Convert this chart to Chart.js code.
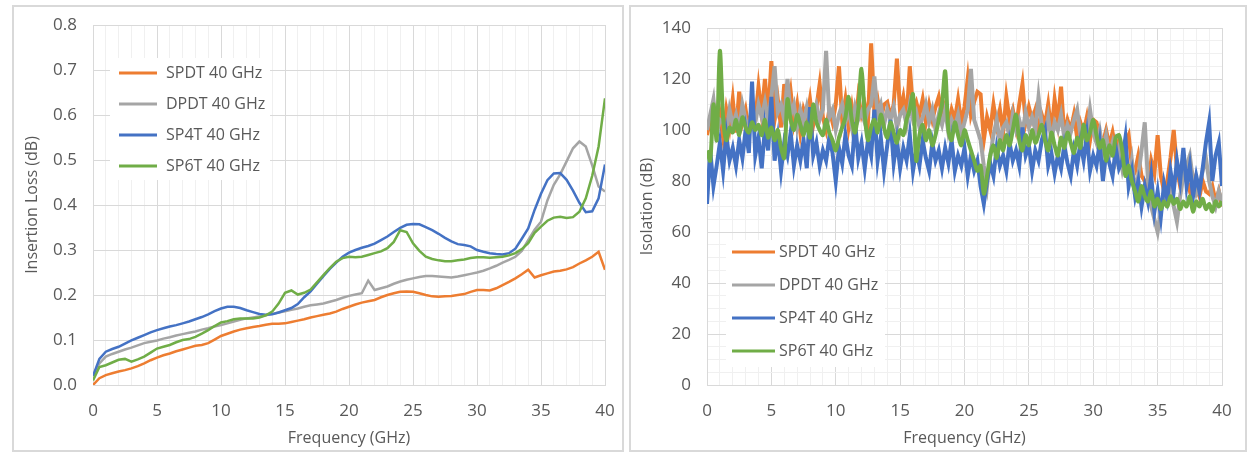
<!DOCTYPE html>
<html lang="en">
<head>
  <meta charset="UTF-8" />
  <title>SPDT / DPDT / SP4T / SP6T 40 GHz</title>
  <script src="https://cdn.jsdelivr.net/npm/chart.js"></script>
  <style>
    body {
      margin: 0;
      background: #fff;
      font-family: 'Open Sans', sans-serif;
    }
    .panel {
      position: absolute;
      border: 2px solid #d9d9d9;
      box-sizing: border-box;
      background: #fff;
    }
  </style>
</head>
<body>
  <div class="panel" style="left:12px;top:5px;width:612px;height:447px"><canvas id="ilChart"></canvas></div>
  <div class="panel" style="left:629px;top:5px;width:618px;height:447px"><canvas id="isoChart"></canvas></div>

  <script>
    const seriesNames = ['SPDT 40 GHz', 'DPDT 40 GHz', 'SP4T 40 GHz', 'SP6T 40 GHz'];
    const seriesColors = ['#ED7D31', '#A5A5A5', '#4472C4', '#70AD47'];

    // insertion loss, sampled every 0.5 GHz
    const freqIL = [
      0, 0.5, 1, 1.5, 2, 2.5, 3, 3.5, 4, 4.5, 5, 5.5, 6, 6.5, 7, 7.5, 8, 8.5, 9, 9.5,
      10, 10.5, 11, 11.5, 12, 12.5, 13, 13.5, 14, 14.5, 15, 15.5, 16, 16.5, 17, 17.5, 18, 18.5, 19, 19.5,
      20, 20.5, 21, 21.5, 22, 22.5, 23, 23.5, 24, 24.5, 25, 25.5, 26, 26.5, 27, 27.5, 28, 28.5, 29, 29.5,
      30, 30.5, 31, 31.5, 32, 32.5, 33, 33.5, 34, 34.5, 35, 35.5, 36, 36.5, 37, 37.5, 38, 38.5, 39, 39.5, 40
    ];
    const spdtIL = [
      0.000, 0.015, 0.022, 0.026, 0.030, 0.033, 0.037, 0.042, 0.048, 0.055,
      0.061, 0.066, 0.070, 0.075, 0.079, 0.083, 0.087, 0.089, 0.093, 0.101,
      0.109, 0.114, 0.119, 0.123, 0.126, 0.129, 0.131, 0.134, 0.136, 0.136,
      0.137, 0.140, 0.143, 0.146, 0.150, 0.153, 0.156, 0.159, 0.163, 0.169,
      0.174, 0.179, 0.183, 0.186, 0.189, 0.195, 0.200, 0.204, 0.207, 0.208,
      0.207, 0.204, 0.200, 0.197, 0.196, 0.197, 0.198, 0.200, 0.202, 0.207,
      0.211, 0.211, 0.210, 0.215, 0.222, 0.229, 0.237, 0.246, 0.256, 0.239,
      0.244, 0.248, 0.252, 0.254, 0.257, 0.262, 0.270, 0.277, 0.285, 0.296,
      0.256
    ];
    const dpdtIL = [
      0.020, 0.048, 0.063, 0.069, 0.074, 0.079, 0.083, 0.088, 0.093, 0.096,
      0.099, 0.103, 0.106, 0.110, 0.113, 0.116, 0.119, 0.123, 0.126, 0.130,
      0.133, 0.137, 0.141, 0.145, 0.148, 0.150, 0.152, 0.155, 0.158, 0.161,
      0.164, 0.167, 0.170, 0.174, 0.177, 0.179, 0.181, 0.185, 0.189, 0.194,
      0.198, 0.201, 0.204, 0.232, 0.211, 0.215, 0.219, 0.225, 0.230, 0.234,
      0.237, 0.240, 0.242, 0.242, 0.241, 0.240, 0.239, 0.241, 0.244, 0.247,
      0.250, 0.254, 0.259, 0.265, 0.272, 0.278, 0.285, 0.298, 0.322, 0.345,
      0.363, 0.410, 0.445, 0.468, 0.497, 0.526, 0.541, 0.530, 0.488, 0.441,
      0.430
    ];
    const sp4tIL = [
      0.020, 0.058, 0.074, 0.080, 0.085, 0.092, 0.099, 0.105, 0.111, 0.117,
      0.122, 0.126, 0.130, 0.133, 0.137, 0.141, 0.146, 0.151, 0.157, 0.164,
      0.170, 0.174, 0.174, 0.171, 0.166, 0.162, 0.158, 0.156, 0.157, 0.161,
      0.166, 0.171, 0.180, 0.195, 0.208, 0.225, 0.242, 0.258, 0.272, 0.285,
      0.294, 0.300, 0.305, 0.309, 0.314, 0.322, 0.330, 0.340, 0.349, 0.356,
      0.358, 0.357, 0.351, 0.344, 0.336, 0.327, 0.319, 0.313, 0.311, 0.308,
      0.300, 0.296, 0.293, 0.291, 0.290, 0.293, 0.303, 0.325, 0.348, 0.389,
      0.425, 0.455, 0.470, 0.471, 0.456, 0.432, 0.405, 0.384, 0.386, 0.415,
      0.490
    ];
    const sp6tIL = [
      0.010, 0.040, 0.044, 0.050, 0.056, 0.058, 0.052, 0.057, 0.063, 0.072,
      0.081, 0.085, 0.089, 0.095, 0.100, 0.102, 0.107, 0.114, 0.122, 0.131,
      0.139, 0.142, 0.146, 0.148, 0.148, 0.148, 0.150, 0.155, 0.163, 0.181,
      0.205, 0.210, 0.201, 0.205, 0.212, 0.228, 0.244, 0.260, 0.274, 0.282,
      0.285, 0.284, 0.285, 0.289, 0.293, 0.297, 0.304, 0.318, 0.344, 0.340,
      0.315, 0.298, 0.285, 0.280, 0.277, 0.275, 0.275, 0.277, 0.279, 0.282,
      0.284, 0.284, 0.283, 0.284, 0.285, 0.288, 0.293, 0.302, 0.315, 0.338,
      0.352, 0.365, 0.372, 0.374, 0.371, 0.373, 0.385, 0.415, 0.465, 0.530,
      0.637
    ];

    // isolation, sampled every 0.25 GHz
    const freqISO = [
      0, 0.25, 0.5, 0.75, 1, 1.25, 1.5, 1.75, 2, 2.25, 2.5, 2.75, 3, 3.25, 3.5, 3.75, 4, 4.25, 4.5, 4.75, 5,
      5.25, 5.5, 5.75, 6, 6.25, 6.5, 6.75, 7, 7.25, 7.5, 7.75, 8, 8.25, 8.5, 8.75, 9, 9.25, 9.5, 9.75, 10,
      10.25, 10.5, 10.75, 11, 11.25, 11.5, 11.75, 12, 12.25, 12.5, 12.75, 13, 13.25, 13.5, 13.75, 14, 14.25, 14.5, 14.75, 15,
      15.25, 15.5, 15.75, 16, 16.25, 16.5, 16.75, 17, 17.25, 17.5, 17.75, 18, 18.25, 18.5, 18.75, 19, 19.25, 19.5, 19.75, 20,
      20.25, 20.5, 20.75, 21, 21.25, 21.5, 21.75, 22, 22.25, 22.5, 22.75, 23, 23.25, 23.5, 23.75, 24, 24.25, 24.5, 24.75, 25,
      25.25, 25.5, 25.75, 26, 26.25, 26.5, 26.75, 27, 27.25, 27.5, 27.75, 28, 28.25, 28.5, 28.75, 29, 29.25, 29.5, 29.75, 30,
      30.25, 30.5, 30.75, 31, 31.25, 31.5, 31.75, 32, 32.25, 32.5, 32.75, 33, 33.25, 33.5, 33.75, 34, 34.25, 34.5, 34.75, 35,
      35.25, 35.5, 35.75, 36, 36.25, 36.5, 36.75, 37, 37.25, 37.5, 37.75, 38, 38.25, 38.5, 38.75, 39, 39.25, 39.5, 39.75, 40
    ];
    const spdtISO = [
      98, 104, 110, 100, 106, 97, 108, 101, 112, 99, 115, 103, 108, 100, 109, 104, 117, 106, 120, 105, 127,
      104, 112, 101, 118, 107, 115, 103, 110, 99, 108, 104, 112, 102, 109, 118, 105, 100, 108, 103, 110,
      125, 104, 112, 101, 109, 100, 113, 106, 110, 103, 134, 107, 112, 104, 110, 111, 105, 110, 128, 107,
      113, 104, 125, 108, 111, 106, 112, 103, 110, 104, 109, 113, 106, 110, 102, 108, 104, 112, 103, 109,
      120, 106, 111, 115, 114, 96, 105, 100, 110, 102, 108, 99, 113, 104, 108, 101, 110, 118, 103, 109,
      104, 108, 100, 106, 102, 110, 99, 112, 103, 117, 98, 104, 100, 106, 97, 103, 99, 105, 96, 104,
      103, 98, 95, 100, 94, 99, 92, 96, 90, 95, 98, 86, 84, 90, 82, 80, 78, 88, 83, 98,
      82, 76, 80, 89, 100, 85, 78, 84, 80, 76, 82, 78, 74, 80, 76, 75, 78, 72, 76, 70
    ];
    const dpdtISO = [
      100, 106, 112, 99, 104, 103, 99, 108, 102, 106, 100, 110, 104, 101, 108, 103, 110, 105, 111, 104, 113,
      125, 107, 110, 104, 120, 106, 110, 101, 108, 103, 109, 102, 106, 110, 104, 108, 131, 105, 108, 100,
      106, 110, 103, 108, 101, 109, 104, 107, 103, 108, 110, 121, 106, 110, 102, 108, 104, 109, 101, 106,
      108, 102, 110, 104, 107, 101, 105, 110, 103, 108, 100, 106, 102, 108, 99, 104, 101, 106, 98, 103,
      108, 124, 104, 100, 96, 86, 78, 90, 98, 104, 95, 101, 103, 97, 106, 100, 104, 99, 107, 101,
      105, 100, 113, 102, 98, 105, 96, 103, 100, 106, 97, 102, 99, 104, 108, 98, 101, 97, 108, 99,
      95, 100, 92, 98, 90, 95, 88, 93, 85, 92, 80, 88, 76, 82, 92, 103, 80, 70, 65, 60,
      68, 75, 72, 80, 70, 64, 74, 82, 86, 90, 80, 75, 78, 84, 89, 80, 74, 70, 76, 72
    ];
    const sp4tISO = [
      71, 92, 78, 86, 95, 84, 98, 88, 93, 86, 96, 89, 100, 91, 119, 90, 97, 85, 101, 92, 113,
      88, 97, 84, 95, 90, 99, 86, 94, 88, 96, 85, 109, 90, 95, 86, 92, 88, 97, 91, 80,
      93, 87, 98, 90, 86, 103, 89, 95, 85, 96, 90, 108, 88, 97, 84, 94, 104, 87, 96, 85,
      93, 88, 98, 84, 92, 86, 96, 89, 84, 95, 88, 92, 85, 93, 87, 96, 84, 90, 86, 93,
      82, 90, 84, 88, 78, 71, 80, 87, 82, 93, 86, 90, 84, 95, 88, 92, 86, 101, 90, 94,
      84, 92, 88, 96, 100, 86, 91, 83, 90, 85, 94, 87, 82, 92, 86, 95, 88, 98, 84, 90,
      86, 95, 80, 91, 87, 82, 93, 85, 88, 97, 78, 84, 74, 80, 70, 78, 72, 82, 68, 76,
      66, 79, 73, 84, 76, 88, 80, 93, 78, 86, 74, 82, 76, 85, 95, 103, 80, 90, 95, 78
    ];
    const sp6tISO = [
      92, 88, 110, 96, 131, 105, 96, 101, 99, 104, 98, 105, 101, 99, 103, 100, 102, 98, 104, 97, 101,
      96, 100, 93, 89, 112, 104, 100, 106, 102, 98, 103, 97, 110, 103, 100, 98, 104, 99, 96, 92,
      97, 101, 105, 113, 104, 99, 108, 124, 106, 96, 101, 104, 99, 106, 101, 97, 103, 99, 95, 100,
      98, 104, 108, 114, 88, 98, 102, 96, 100, 94, 98, 104, 110, 123, 100, 96, 103, 98, 94, 100,
      96, 92, 88, 84, 86, 75, 82, 90, 94, 89, 96, 92, 98, 94, 100, 106, 96, 92, 98, 94,
      100, 95, 98, 102, 96, 92, 99, 94, 90, 97, 93, 99, 95, 91, 97, 93, 102, 96, 99, 104,
      98, 93, 96, 88, 94, 90, 97, 98, 92, 82, 86, 80, 76, 72, 78, 74, 72, 76, 70, 73,
      69, 72, 70, 74, 71, 73, 69, 72, 70, 74, 68, 72, 70, 73, 69, 71, 68, 72, 70, 72
    ];

    Chart.defaults.font.family = "'Open Sans', sans-serif";
    Chart.defaults.color = '#595959';

    const MAJOR = '#d9d9d9';
    const MINOR = '#f0f0f0';

    // legend drawn inside the plot, with a white box behind it like Excel does
    const insideLegend = {
      id: 'insideLegend',
      afterDatasetsDraw(chart, args, o) {
        const ctx = chart.ctx;
        ctx.save();
        ctx.fillStyle = '#fff';
        ctx.fillRect(o.box[0], o.box[1], o.box[2], o.box[3]);
        ctx.font = "16px 'Open Sans', sans-serif";
        ctx.textBaseline = 'middle';
        chart.data.datasets.forEach((ds, i) => {
          const y = o.y + i * o.rowH;
          ctx.strokeStyle = ds.borderColor;
          ctx.lineWidth = 3;
          ctx.beginPath();
          ctx.moveTo(o.x, y);
          ctx.lineTo(o.x + o.lineW, y);
          ctx.stroke();
          ctx.fillStyle = '#595959';
          ctx.fillText(ds.label, o.x + o.lineW + o.gap, y);
        });
        ctx.restore();
      }
    };

    function buildSets(freq, lists, width) {
      return lists.map((vals, i) => ({
        label: seriesNames[i],
        data: vals.map((v, k) => ({ x: freq[k], y: v })),
        borderColor: seriesColors[i],
        borderWidth: width,
        pointRadius: 0,
        tension: i === 3 && width > 3 ? 0.3 : 0,
        order: 3 - i
      }));
    }

    // keep tick labels from pushing the plot area in
    function noOverhang(s) {
      s.paddingLeft = 0; s.paddingRight = 0; s.paddingTop = 0; s.paddingBottom = 0;
    }

    function freqAxis(titlePad) {
      return {
        type: 'linear', min: 0, max: 40,
        ticks: {
          stepSize: 1, autoSkip: false, maxRotation: 0, padding: 16,
          font: { size: 17 },
          callback: v => (v % 5 === 0 ? v : '')
        },
        grid: { drawTicks: false, color: c => (c.tick && c.tick.value % 5 === 0 ? MAJOR : MINOR) },
        border: { color: MAJOR },
        title: { display: true, text: 'Frequency (GHz)', font: { size: 16 }, padding: { top: 0, bottom: titlePad } },
        afterFit: s => { s.height = 65; noOverhang(s); }
      };
    }

    new Chart(document.getElementById('ilChart'), {
      type: 'line',
      data: { datasets: buildSets(freqIL, [spdtIL, dpdtIL, sp4tIL, sp6tIL], 2.5) },
      options: {
        responsive: true, maintainAspectRatio: false, animation: false,
        layout: { padding: { top: 18, right: 17, left: 0, bottom: 0 } },
        plugins: {
          legend: { display: false }, tooltip: { enabled: false },
          insideLegend: { box: [96, 51, 160, 122], x: 105, y: 66, rowH: 31, lineW: 38, gap: 9 }
        },
        scales: {
          x: freqAxis(2),
          y: {
            min: 0, max: 0.8,
            ticks: { stepSize: 0.1, padding: 16, font: { size: 17 }, callback: v => v.toFixed(1) },
            grid: { drawTicks: false, color: MAJOR },
            border: { color: MAJOR },
            title: { display: true, text: 'Insertion Loss (dB)', font: { size: 16 }, padding: { top: 9, bottom: 0 } },
            afterFit: s => { s.width = 79; noOverhang(s); }
          }
        }
      },
      plugins: [insideLegend]
    });

    new Chart(document.getElementById('isoChart'), {
      type: 'line',
      data: { datasets: buildSets(freqISO, [spdtISO, dpdtISO, sp4tISO, sp6tISO], 4) },
      options: {
        responsive: true, maintainAspectRatio: false, animation: false,
        layout: { padding: { top: 21, right: 23, left: 0, bottom: 0 } },
        plugins: {
          legend: { display: false }, tooltip: { enabled: false },
          insideLegend: { box: [95, 233, 159, 127], x: 101, y: 245, rowH: 33, lineW: 43, gap: 4 }
        },
        scales: {
          x: freqAxis(2),
          y: {
            min: 0, max: 140,
            ticks: { stepSize: 5, autoSkip: false, padding: 16, font: { size: 17 }, callback: v => (v % 20 === 0 ? v : '') },
            grid: { drawTicks: false, color: c => (c.tick && c.tick.value % 20 === 0 ? MAJOR : MINOR) },
            border: { color: MAJOR },
            title: { display: true, text: 'Isolation (dB)', font: { size: 16 }, padding: { top: 7, bottom: 0 } },
            afterFit: s => { s.width = 76; noOverhang(s); }
          }
        }
      },
      plugins: [insideLegend]
    });
  </script>
</body>
</html>
